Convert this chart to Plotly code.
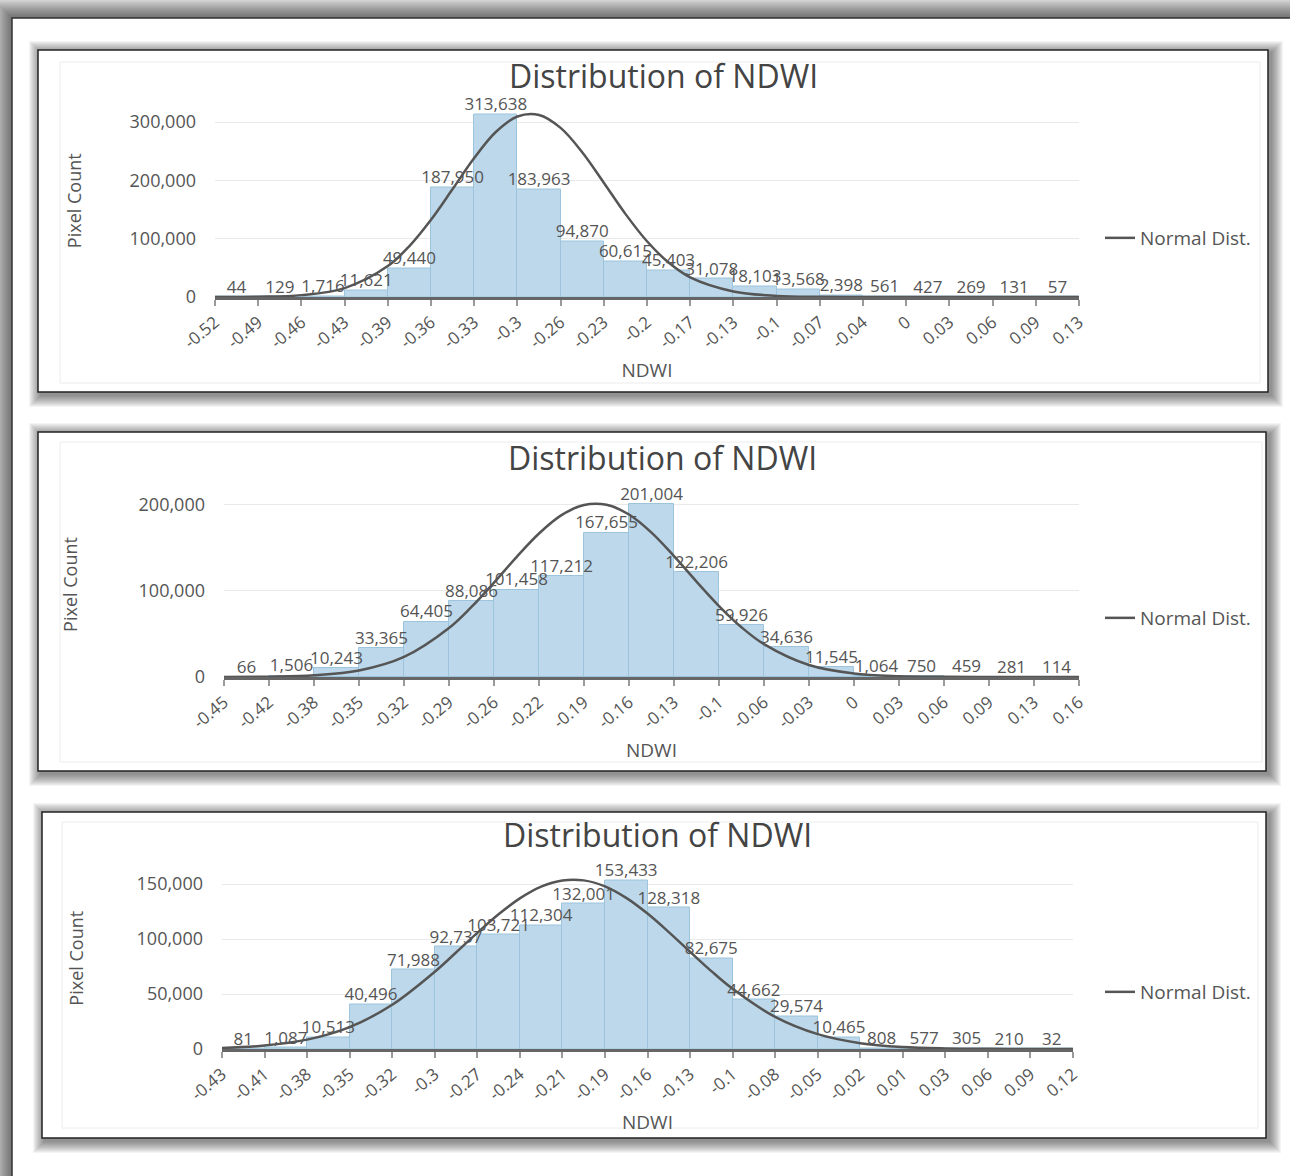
import plotly.graph_objects as go

W, H = 1290, 1176

# ---------------- data ----------------
edges1 = ["-0.52", "-0.49", "-0.46", "-0.43", "-0.39", "-0.36", "-0.33", "-0.3", "-0.26", "-0.23",
          "-0.2", "-0.17", "-0.13", "-0.1", "-0.07", "-0.04", "0", "0.03", "0.06", "0.09", "0.13"]
counts1 = [44, 129, 1716, 11621, 49440, 187950, 313638, 183963, 94870, 60615,
           45403, 31078, 18103, 13568, 2398, 561, 427, 269, 131, 57]
curve1_x = [0, 1, 2, 3, 4, 4.5, 5, 5.5, 6, 6.5, 7, 7.5, 8, 8.5, 9, 9.5, 10, 10.5,
            11, 12, 13, 14, 15, 16, 17, 18, 19, 20]
curve1_y = [50, 500, 3200, 15300, 53000, 87300, 132400, 185000, 238300, 282900, 309400,
            312000, 289900, 248200, 195900, 142500, 95500, 59000,
            33600, 9500, 1900, 250, 20, 0, 0, 0, 0, 0]

edges2 = ["-0.45", "-0.42", "-0.38", "-0.35", "-0.32", "-0.29", "-0.26", "-0.22", "-0.19", "-0.16",
          "-0.13", "-0.1", "-0.06", "-0.03", "0", "0.03", "0.06", "0.09", "0.13", "0.16"]
counts2 = [66, 1506, 10243, 33365, 64405, 88086, 101458, 117212, 167655, 201004,
           122206, 59926, 34636, 11545, 1064, 750, 459, 281, 114]
curve2_x = [0, 1, 2, 3, 4, 5, 5.5, 6, 6.5, 7, 7.5, 8, 8.5, 9, 9.5, 10, 10.5, 11, 11.5,
            12, 13, 14, 15, 16, 17, 18, 19]
curve2_y = [60, 380, 1900, 7500, 23300, 56900, 81400, 109700, 139400, 166800, 188100,
            199900, 200100, 188800, 167800, 140500, 110900, 82500, 57800,
            38200, 13900, 4000, 900, 160, 25, 3, 0]

edges3 = ["-0.43", "-0.41", "-0.38", "-0.35", "-0.32", "-0.3", "-0.27", "-0.24", "-0.21", "-0.19",
          "-0.16", "-0.13", "-0.1", "-0.08", "-0.05", "-0.02", "0.01", "0.03", "0.06", "0.09", "0.12"]
counts3 = [81, 1087, 10513, 40496, 71988, 92737, 103721, 112304, 132001, 153433,
           128318, 82675, 44662, 29574, 10465, 808, 577, 305, 210, 32]
curve3_x = [0, 1, 2, 3, 4, 5, 5.5, 6, 6.5, 7, 7.5, 8, 8.5, 9, 9.5, 10, 10.5, 11, 11.5,
            12, 13, 14, 15, 16, 17, 18, 19, 20]
curve3_y = [990, 3100, 8500, 19900, 40200, 70200, 87700, 105600, 122500, 136900, 147600,
            153200, 153300, 147900, 137400, 123100, 106300, 88400, 70800,
            54700, 29200, 13500, 5300, 1800, 540, 140, 30, 6]

# ---------------- layout geometry (pixels) ----------------
charts = [
    dict(edges=edges1, counts=counts1, cx=curve1_x, cy=curve1_y,
         xpx=(215, 1079), ybot=297, ytop=104.5, yr=330000, dtick=100000,
         title_xy=(663, 76), legend_y=238, ystand=43,
         panel=(38, 50, 1268, 392), inner=(60, 62, 1260, 383)),
    dict(edges=edges2, counts=counts2, cx=curve2_x, cy=curve2_y,
         xpx=(224, 1079), ybot=677, ytop=492, yr=215000, dtick=100000,
         title_xy=(662, 457), legend_y=618, ystand=56,
         panel=(38, 432, 1266, 771), inner=(60, 442, 1262, 762)),
    dict(edges=edges3, counts=counts3, cx=curve3_x, cy=curve3_y,
         xpx=(222, 1073), ybot=1049, ytop=867.5, yr=165000, dtick=50000,
         title_xy=(657, 834), legend_y=992, ystand=48,
         panel=(42, 812, 1266, 1138), inner=(62, 822, 1258, 1128)),
]

FONT = "Open Sans"
TXT = "#555555"
BAR_FILL = "#bcd8ea"
BAR_LINE = "#9cc4dd"


def px_x(x):
    return x / W


def px_y(y):
    return 1 - y / H


def rect(x0, y0, x1, y1, **kw):
    d = dict(type="rect", xref="paper", yref="paper", layer="below",
             x0=px_x(x0), x1=px_x(x1), y0=px_y(y1), y1=px_y(y0))
    d.update(kw)
    return d


fig = go.Figure()
shapes = []
annotations = []
layout = {}

# outer frame with shadow
for k in range(18, 0, -1):
    shapes.append(rect(12 - k, 18 - k, W + 30, H + 30,
                       fillcolor="rgba(0,0,0,0.03)", line=dict(width=0)))
shapes.append(rect(12, 18, W + 30, H + 30, fillcolor="white",
                   line=dict(color="#333333", width=1.5)))

for i, c in enumerate(charts, start=1):
    sfx = "" if i == 1 else str(i)
    n = len(c["counts"])
    xa, ya = "x" + sfx, "y" + sfx
    centers = [j + 0.5 for j in range(n)]

    # panel shadow + panel
    x0, y0, x1, y1 = c["panel"]
    for k in range(12, 0, -1):
        shapes.append(rect(x0 - k + 3, y0 - k + 3, x1 + k + 3, y1 + k + 3,
                           fillcolor="rgba(0,0,0,0.045)", line=dict(width=0)))
    shapes.append(rect(x0, y0, x1, y1, fillcolor="white",
                       line=dict(color="#222222", width=1.5)))
    ix0, iy0, ix1, iy1 = c["inner"]
    shapes.append(rect(ix0, iy0, ix1, iy1, fillcolor="rgba(0,0,0,0)",
                       line=dict(color="#ececec", width=1)))

    fig.add_trace(go.Bar(
        x=centers, y=c["counts"], width=1,
        marker=dict(color=BAR_FILL, line=dict(color=BAR_LINE, width=1)),
        showlegend=False, xaxis=xa, yaxis=ya, hoverinfo="skip"))

    # value labels drawn above all bars
    fig.add_trace(go.Scatter(
        x=centers, y=c["counts"], mode="text",
        text=[f"{v:,}" for v in c["counts"]], textposition="top center",
        textfont=dict(family=FONT, size=17, color=TXT),
        cliponaxis=False, showlegend=False, xaxis=xa, yaxis=ya, hoverinfo="skip"))

    fig.add_trace(go.Scatter(
        x=c["cx"], y=c["cy"], mode="lines", name="Normal Dist.",
        line=dict(color="#555555", width=2.5, shape="spline", smoothing=1),
        cliponaxis=False, xaxis=xa, yaxis=ya,
        legend="legend" + sfx))

    layout["xaxis" + sfx] = dict(
        domain=[px_x(c["xpx"][0]), px_x(c["xpx"][1])], anchor=ya,
        range=[0, n], tickmode="array", tickvals=list(range(n + 1)),
        ticktext=c["edges"], tickangle=-40,
        tickfont=dict(family=FONT, size=17, color=TXT),
        ticks="outside", ticklen=6, tickcolor="#9a9a9a", tickwidth=1.5,
        showline=True, linecolor="#666666", linewidth=2.5,
        showgrid=False, zeroline=False, automargin=False, fixedrange=True,
        title=dict(text="NDWI", font=dict(family=FONT, size=19, color=TXT), standoff=12))
    layout["yaxis" + sfx] = dict(
        domain=[px_y(c["ybot"]), px_y(c["ytop"])], anchor=xa,
        range=[0, c["yr"]], dtick=c["dtick"], tick0=0, tickformat=",",
        tickfont=dict(family=FONT, size=18, color=TXT),
        ticklabelstandoff=18, showline=False, ticks="",
        showgrid=True, gridcolor="#e9e9e9", gridwidth=1, zeroline=False,
        automargin=False, fixedrange=True,
        title=dict(text="Pixel Count", font=dict(family=FONT, size=18, color=TXT),
                   standoff=c["ystand"]))
    layout["legend" + sfx] = dict(
        x=px_x(1100), y=px_y(c["legend_y"]), xanchor="left", yanchor="middle",
        font=dict(family=FONT, size=19, color=TXT), bgcolor="rgba(0,0,0,0)",
        itemwidth=30)

    tx, ty = c["title_xy"]
    annotations.append(dict(
        text="Distribution of NDWI", xref="paper", yref="paper",
        x=px_x(tx), y=px_y(ty), xanchor="center", yanchor="middle",
        showarrow=False, font=dict(family=FONT, size=32, color="#444444")))

fig.update_layout(
    width=W, height=H, margin=dict(l=0, r=0, t=0, b=0),
    paper_bgcolor="#dadada", plot_bgcolor="rgba(0,0,0,0)",
    shapes=shapes, annotations=annotations, bargap=0,
    font=dict(family=FONT, color=TXT), **layout)

fig.write_html("out.html",
               config={"displayModeBar": False},
               post_script="document.body.style.margin='0px';"
                           "document.body.style.overflow='hidden';")
